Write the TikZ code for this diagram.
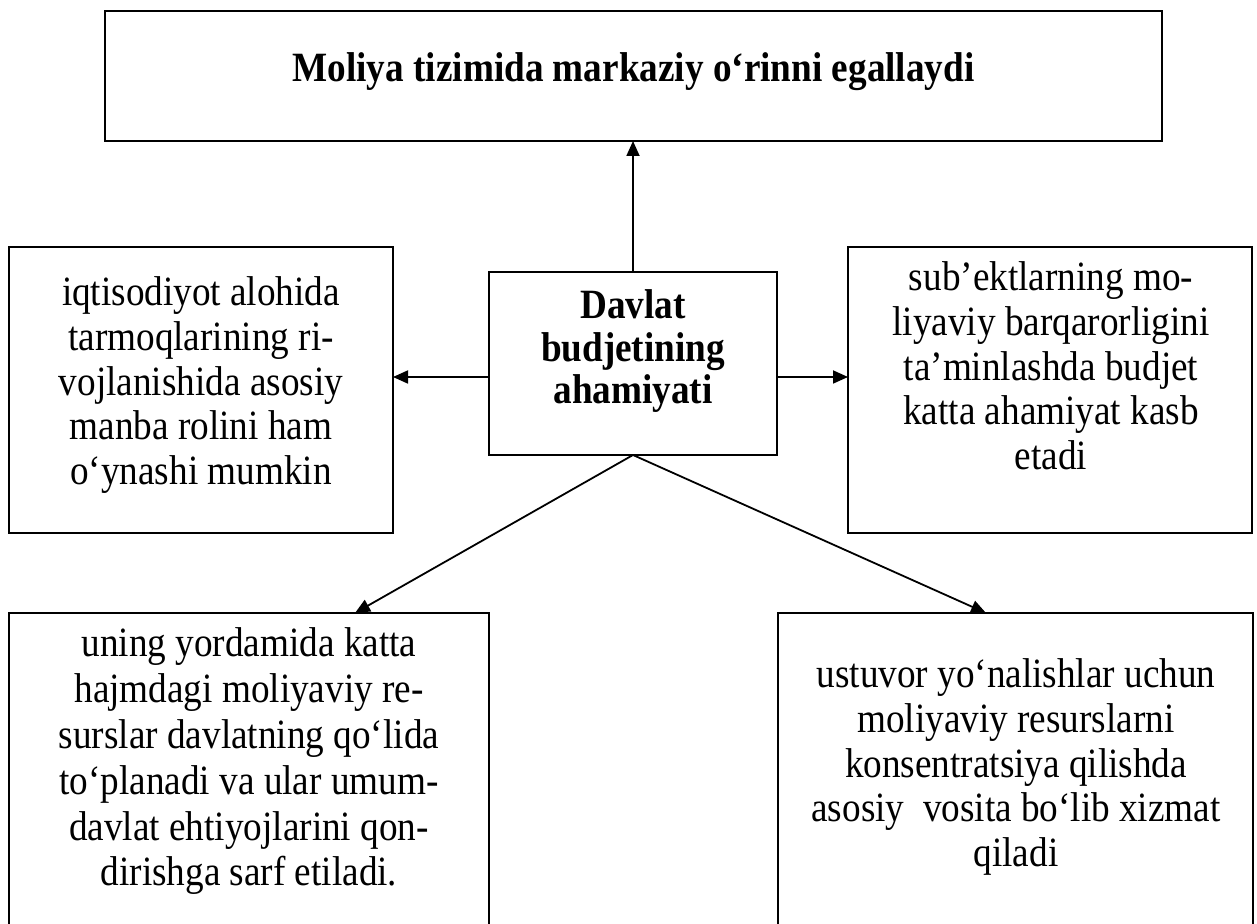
\documentclass[tikz,border=0pt]{standalone}
\usepackage{fontspec}
\setmainfont{Liberation Serif}
\usetikzlibrary{arrows.meta}
\begin{document}
\begin{tikzpicture}[x=0.5pt,y=-0.5pt,
  box/.style={draw, line width=1pt, inner sep=0pt, outer sep=0pt},
  txt/.style={inner sep=0pt, align=center, anchor=north, yscale=1.12, transform shape,
    font=\fontsize{18.6pt}{19.9pt}\selectfont},
  btxt/.style={txt, font=\fontsize{18.6pt}{19pt}\selectfont\bfseries},
  conn/.style={line width=0.9pt, -{Triangle[length=7.5pt,width=6.5pt]}}]
\path[use as bounding box, clip] (0,0) rectangle (1257,924);
% boxes
\node[box, minimum width=528.5pt, minimum height=65pt] (top) at (633.5,76) {};
\node[box, minimum width=144pt, minimum height=91.5pt] (ctr) at (633,363.5) {};
\node[box, minimum width=192pt, minimum height=143pt] (lft) at (201,390) {};
\node[box, minimum width=202pt, minimum height=143pt] (rgt) at (1050,390) {};
\node[box, minimum width=240pt, minimum height=163.5pt] (bl) at (249,776.5) {};
\node[box, minimum width=237.5pt, minimum height=163.5pt] (br) at (1015.5,776.5) {};
% texts
\node[btxt, anchor=base] (topT) at (633.5,82) {Moliya tizimida markaziy oʻrinni egallaydi};
\node[btxt] (ctrT) at (633,289.5) {Davlat\\budjetining\\ahamiyati};
\node[txt] (lftT) at (201,276.5) {iqtisodiyot alohida\\tarmoqlarining ri-\\vojlanishida asosiy\\manba rolini ham\\oʻynashi mumkin};
\node[txt] (rgtT) at (1051,261.5) {sub’ektlarning mo-\\liyaviy barqarorligini\\ta’minlashda budjet\\katta ahamiyat kasb\\etadi};
\node[txt, font=\fontsize{18.6pt}{20.45pt}\selectfont] (blT) at (249,627.5) {uning yordamida katta\\hajmdagi moliyaviy re-\\surslar davlatning qoʻlida\\toʻplanadi va ular umum-\\davlat ehtiyojlarini qon-\\dirishga sarf etiladi.};
\node[txt] (brT) at (1016,658.5) {ustuvor yoʻnalishlar uchun\\moliyaviy resurslarni\\konsentratsiya qilishda\\asosiy~ vosita boʻlib xizmat\\qiladi};
% connectors
\draw[conn] (ctr.north) -- (ctr.north |- top.south);
\draw[conn] ([yshift=-6.75pt]ctr.west) -- ([yshift=-6.75pt]ctr.west -| lft.east);
\draw[conn] ([yshift=-6.75pt]ctr.east) -- ([yshift=-6.75pt]ctr.east -| rgt.west);
\draw[conn] (ctr.south) -- ([xshift=53pt]bl.north);
\draw[conn] (ctr.south) -- ([xshift=-14.75pt]br.north);
\end{tikzpicture}
\end{document}
